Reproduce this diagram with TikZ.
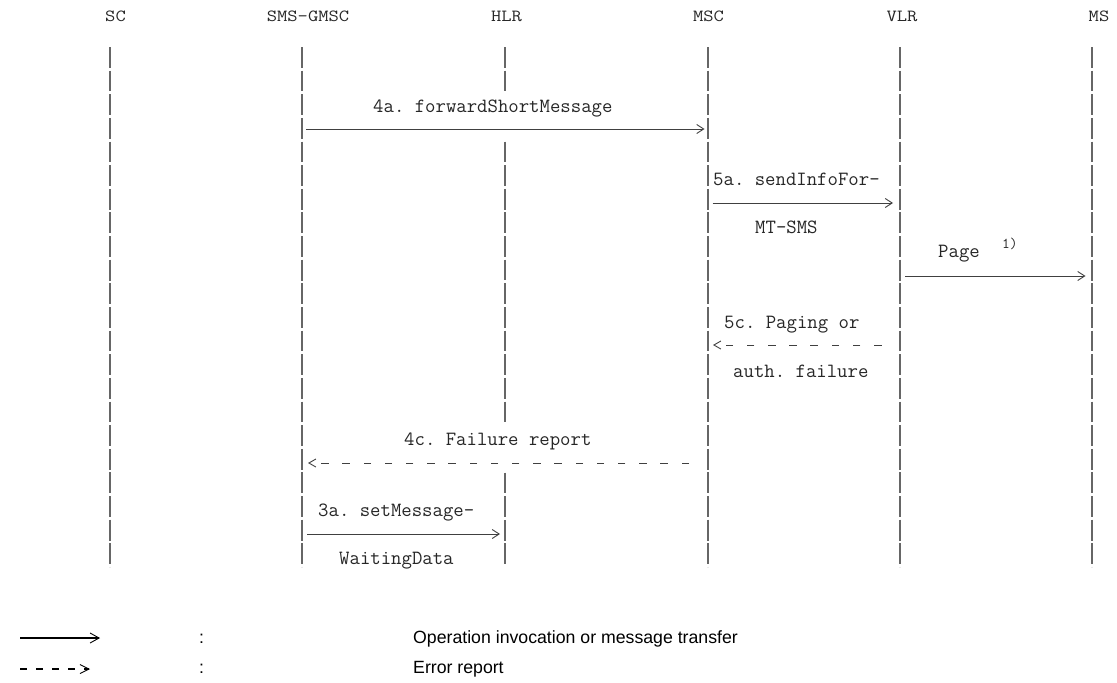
\documentclass[tikz,border=0pt]{standalone}
\usepackage{fontspec}
\setmainfont{Liberation Sans}
\usetikzlibrary{arrows.meta}
\tikzset{
  lifeline/.style={draw=black!60, line width=1.05pt, dash pattern=on 20.8pt off 2.836pt},
  msgline/.style={draw=black!75, line width=0.9pt, -{Straight Barb[length=7pt,width=9pt,line width=0.9pt]}},
  errline/.style={draw=black!75, line width=0.9pt, dash pattern=on 7.5pt off 13.7pt, -{Straight Barb[length=7pt,width=8pt,line width=0.9pt]}},
  lbl/.style={inner sep=0pt, anchor=base west, text=black!85, font=\ttfamily\fontsize{20.2pt}{22pt}\selectfont},
  hdr/.style={inner sep=0pt, anchor=base, text=black!85, font=\ttfamily\fontsize{20pt}{22pt}\selectfont},
  legtxt/.style={inner sep=0pt, anchor=base west, text=black, font=\fontsize{17.7pt}{20pt}\selectfont},
}
\begin{document}
\frenchspacing
\begin{tikzpicture}[x=1pt,y=-1pt]
\useasboundingbox (0,0) rectangle (1117,683);

% headers
\node[hdr] (h-sc)  at (115.5,21) {\scalebox{1}[0.85]{SC}};
\node[hdr] (h-gm)  at (308,21)   {\scalebox{1}[0.85]{SMS-GMSC}};
\node[hdr] (h-hlr) at (506.5,21) {\scalebox{1}[0.85]{HLR}};
\node[hdr] (h-msc) at (708.5,21) {\scalebox{1}[0.85]{MSC}};
\node[hdr] (h-vlr) at (902,21)   {\scalebox{1}[0.85]{VLR}};
\node[hdr] (h-ms)  at (1099,21)  {\scalebox{1}[0.85]{MS}};

% lifelines
\foreach \n/\x in {sc/110, gm/302, hlr/505, msc/708, vlr/900, ms/1092} {
  \coordinate (\n-t) at (\x,47);
  \coordinate (\n-b) at (\x,567);
}
\draw[lifeline] (sc-t) -- (sc-b);
\draw[lifeline] (gm-t) -- (gm-b);
\draw[lifeline] (msc-t) -- (msc-b);
\draw[lifeline] (vlr-t) -- (vlr-b);
\draw[lifeline] (ms-t) -- (ms-b);
\coordinate (hlr-a) at (505,91.3);
\coordinate (hlr-c) at (505,141.5);
\coordinate (hlr-d) at (505,422.4);
\coordinate (hlr-e) at (505,472.5);
\draw[lifeline] (hlr-t) -- (hlr-a);
\draw[lifeline] (hlr-c) -- (hlr-d);
\draw[lifeline] (hlr-e) -- (hlr-b);

% 4a
\node[lbl] (t4a) at (373,112) {4a. forwardShortMessage};
\coordinate (a4a-s) at (302,129);
\coordinate (a4a-e) at (708,129);
\draw[msgline, shorten <=4pt, shorten >=3.5pt] (a4a-s) -- (a4a-e);

% 5a
\node[lbl] (t5a) at (713,185) {5a. sendInfoFor-};
\coordinate (a5a-s) at (708,203);
\coordinate (a5a-e) at (900,203);
\draw[msgline, shorten <=4.5pt, shorten >=7pt] (a5a-s) -- (a5a-e);
\node[lbl] (t5a2) at (755,233) {MT-SMS};

% Page
\node[lbl] (tpage) at (938,257) {Page};
\node[lbl, font=\ttfamily\fontsize{15pt}{17pt}\selectfont] (tfn) at (1002,248) {1)};
\coordinate (apg-s) at (900,276);
\coordinate (apg-e) at (1092,276);
\draw[msgline, shorten <=5pt, shorten >=6.5pt] (apg-s) -- (apg-e);

% 5c
\node[lbl] (t5c) at (724,328) {5c. Paging or};
\coordinate (a5c-s) at (900,345);
\coordinate (a5c-e) at (708,345);
\draw[errline, shorten <=18.5pt, shorten >=5pt] (a5c-s) -- (a5c-e);
\node[lbl] (t5c2) at (733,377) {auth. failure};

% 4c
\node[lbl] (t4c) at (404,445) {4c. Failure report};
\coordinate (a4c-s) at (708,463);
\coordinate (a4c-e) at (302,463);
\draw[errline, shorten <=19pt, shorten >=6pt] (a4c-s) -- (a4c-e);

% 3a
\node[lbl] (t3a) at (318,516) {3a. setMessage-};
\coordinate (a3a-s) at (302,534);
\coordinate (a3a-e) at (505,534);
\draw[msgline, shorten <=5pt, shorten >=5pt] (a3a-s) -- (a3a-e);
\node[lbl] (t3a2) at (339,564) {WaitingData};

% legend
\coordinate (lg1-s) at (20,638);
\coordinate (lg1-e) at (100,638);
\draw[line width=1.4pt, -{Straight Barb[length=9pt,width=10pt,line width=0.9pt]}] (lg1-s) -- (lg1-e);
\coordinate (lg2-s) at (20,669);
\coordinate (lg2-e) at (90,669);
\draw[line width=2pt, dash pattern=on 7pt off 9pt, -{Straight Barb[length=9pt,width=9pt,line width=0.9pt]}] (lg2-s) -- (lg2-e);
\node[legtxt] (c1) at (199,643) {:};
\node[legtxt] (c2) at (199,673) {:};
\node[legtxt] (l1) at (413,643) {Operation invocation or message transfer};
\node[legtxt] (l2) at (413,673) {Error report};
\end{tikzpicture}
\end{document}
